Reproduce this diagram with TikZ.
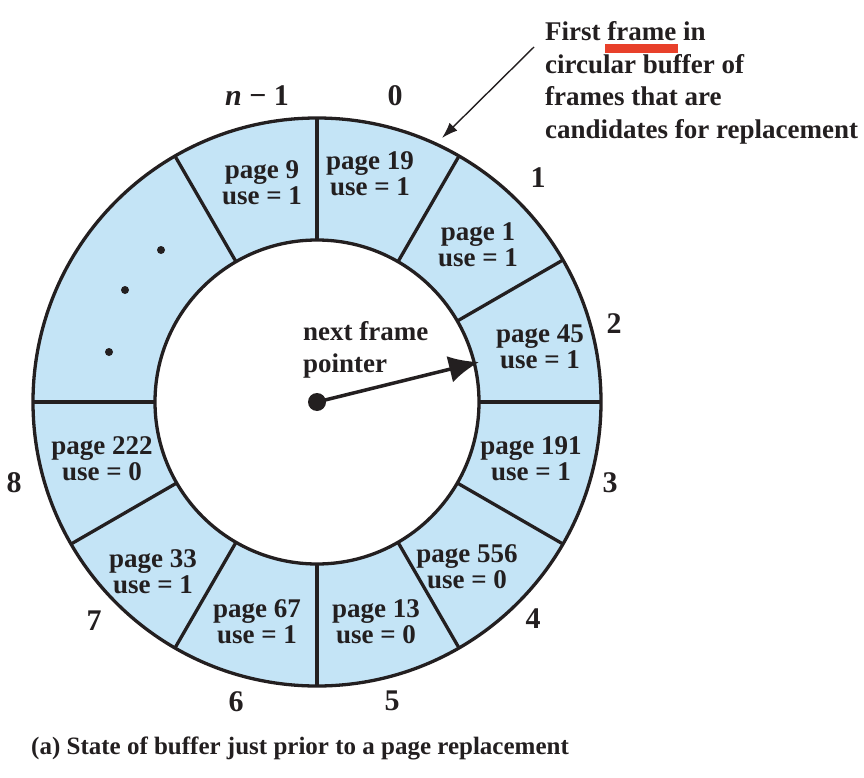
\documentclass[tikz,border=0pt]{standalone}
\usepackage{fontspec}
\setmainfont{Liberation Serif}
\usetikzlibrary{calc,arrows.meta}
\definecolor{ringblue}{RGB}{196,228,246}
\definecolor{ink}{RGB}{35,31,32}
\definecolor{hilite}{RGB}{232,64,42}
\begin{document}
\begin{tikzpicture}[x=1pt,y=-1pt,
  seg/.style={align=center,inner sep=0pt,text=ink,font=\bfseries\fontsize{27}{26}\selectfont},
  lbl/.style={anchor=base,inner sep=0pt,text=ink,font=\bfseries\fontsize{30}{34}\selectfont},
  note/.style={anchor=north west,align=left,inner sep=0pt,text=ink,font=\bfseries\fontsize{27}{32.5}\selectfont},
  ringline/.style={draw=ink,line width=3.3pt},
  ptr/.style={draw=ink,line width=3.5pt,-{Latex[length=30pt,width=27pt]}},
  callout/.style={draw=ink,line width=1.4pt,-{Latex[length=16pt,width=11pt]}},
  ]
\useasboundingbox (0,0) rectangle (864,778);
\coordinate (c) at (317,402);
% ring
\fill[ringblue,even odd rule] (c) circle (284) (c) circle (162);
\foreach \a in {-90,-60,-30,0,30,60,90,120,150,180,-120}{
  \draw[ringline] ($(c)+(\a:162)$) -- ($(c)+(\a:284)$);
}
\draw[ringline] (c) circle (284);
\draw[ringline] (c) circle (162);
% dots
\fill[ink] (161,250) circle (4);
\fill[ink] (125,290) circle (4);
\fill[ink] (109,352) circle (4);
% frame texts
\node[seg] (s9)   at (262,183) {page 9\\use = 1};
\node[seg] (s19)  at (370,174) {page 19\\use = 1};
\node[seg] (s1)   at (478,245) {page 1\\use = 1};
\node[seg] (s45)  at (540,347) {page 45\\use = 1};
\node[seg] (s191) at (531,459) {page 191\\use = 1};
\node[seg] (s556) at (467,567) {page 556\\use = 0};
\node[seg] (s13)  at (376,622) {page 13\\use = 0};
\node[seg] (s67)  at (257,622) {page 67\\use = 1};
\node[seg] (s33)  at (153,572) {page 33\\use = 1};
\node[seg] (s222) at (102,459) {page 222\\use = 0};
% frame numbers
\node[lbl] (ln1) at (257,106) {\textit{n} − 1};
\node[lbl] (l0) at (395,106) {0};
\node[lbl] (l1) at (538,188) {1};
\node[lbl] (l2) at (614,333) {2};
\node[lbl] (l3) at (610,492) {3};
\node[lbl] (l4) at (533,628) {4};
\node[lbl] (l5) at (392,710) {5};
\node[lbl] (l6) at (236,711) {6};
\node[lbl] (l7) at (94,630) {7};
\node[lbl] (l8) at (14,492) {8};
% pointer
\node[circle,fill=ink,inner sep=0pt,minimum size=18pt] (hub) at (c) {};
\coordinate (tip) at (479,362);
\draw[ptr] (hub.center) -- (tip);
\node[note] (nfp) at (303,321) {next frame\\pointer};
% callout
\fill[hilite] (605,44) rectangle (678,53);
\node[note] (first) at (545,21.5) {First frame in\\circular buffer of\\frames that are\\candidates for replacement};
\coordinate (ffs) at (534,47);
\coordinate (fft) at (442,138);
\draw[callout] (ffs) -- (fft);
% caption
\node[anchor=base west,inner sep=0pt,text=ink,font=\bfseries\fontsize{25}{30}\selectfont] (cap) at (31,754) {(a) State of buffer just prior to a page replacement};
\end{tikzpicture}
\end{document}
